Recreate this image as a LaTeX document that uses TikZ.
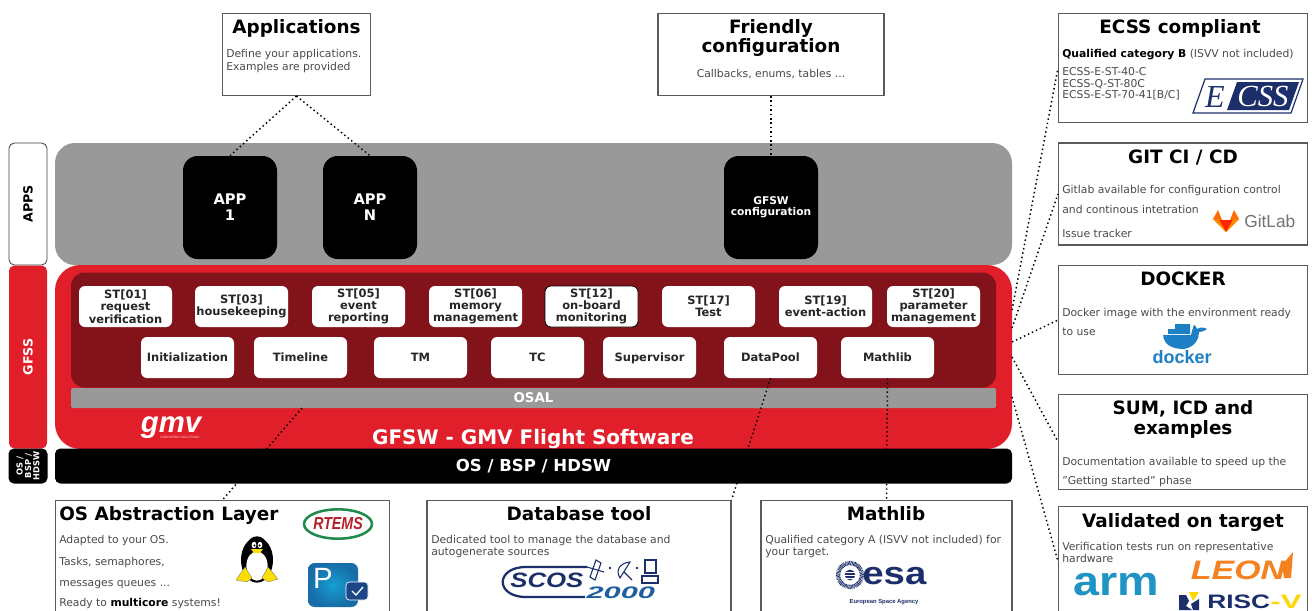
\documentclass[tikz,border=0pt]{standalone}
\usepackage{fontspec}
\setmainfont{DejaVu Sans}
\newfontfamily\logosans{Liberation Sans}
\newfontfamily\logoserif{Liberation Serif}
\usetikzlibrary{calc}
\definecolor{gfred}{HTML}{E11F2B}
\definecolor{gfdark}{HTML}{83131A}
\definecolor{gfgray}{HTML}{999999}
\definecolor{cardline}{HTML}{5A5A5A}
\definecolor{bodyink}{HTML}{4A4A4A}
\definecolor{navy}{HTML}{1C2F6B}
\definecolor{dockblue}{HTML}{1D7FC4}
\definecolor{armblue}{HTML}{1F93C3}
\definecolor{leonor}{HTML}{F58220}
\definecolor{rtgreen}{HTML}{1F8A4C}
\definecolor{rtred}{HTML}{B3202A}
\definecolor{pblue}{HTML}{1C7FC4}
\def\u{0.75pt}
\newcommand{\fs}[1]{\fontsize{#1}{#1}\selectfont}
\newcommand{\fsl}[2]{\fontsize{#1}{#2}\selectfont}
\tikzset{
  x=0.75pt,y=-0.75pt,
  card/.style={draw=cardline,line width=0.8pt,fill=white,inner sep=0pt},
  cardtitle/.style={anchor=base,inner sep=0pt,font=\bfseries\fs{13.8},text=black},
  cardbody/.style={anchor=base west,inner sep=0pt,font=\fs{8.1},text=bodyink},
  cardbodyc/.style={anchor=base,inner sep=0pt,font=\fs{8.1},text=bodyink},
  stbox/.style={fill=white,rounded corners=4.5pt,minimum width=93*\u,minimum height=41*\u,inner sep=0pt,align=center,font=\bfseries\fsl{8.6}{9.2},text=black!85},
  rowbox/.style={stbox,text height=8pt,text depth=1.8pt},
  appbox/.style={fill=black,rounded corners=11pt,minimum width=94*\u,minimum height=103*\u,inner sep=0pt,align=center,text=white},
  sidebox/.style={rotate=90,rounded corners=4pt,inner sep=0pt,align=center,font=\bfseries\fs{9.5}},
  band/.style={inner sep=0pt,align=center},
  conn/.style={draw=black,line width=1.1pt,dash pattern=on 1.1pt off 2.2pt},
}
\begin{document}
\begin{tikzpicture}
\useasboundingbox (0,0) rectangle (1312,610);
% side tabs
\node[sidebox,draw=black!75,line width=0.6pt,fill=white,minimum width=122*\u,minimum height=38*\u] (tabapps) at (28,204) {APPS};
\node[sidebox,fill=gfred,text=white,minimum width=183*\u,minimum height=38*\u] (tabgfss) at (28,357) {GFSS};
\node[sidebox,fill=black,text=white,minimum width=35*\u,minimum height=39*\u,font=\bfseries\fsl{6.2}{6.3}] (tabos) at (28,466) {OS /\\BSP /\\HDSW};
% layers
\node[band,fill=gfgray,rounded corners=15pt,minimum width=957*\u,minimum height=122*\u] (applayer) at (533.5,204) {};
\node[band,fill=gfred,rounded corners=19pt,minimum width=957*\u,minimum height=184*\u] (gfsw) at (533.5,357) {};
\node[band,fill=gfdark,rounded corners=10pt,minimum width=925*\u,minimum height=115*\u] (core) at (533.5,330) {};
\node[band,fill=gfgray,rounded corners=1.5pt,minimum width=925*\u,minimum height=20*\u,text=white,font=\bfseries\fs{10}] (osal) at (533.5,398) {OSAL};
\node[anchor=base,inner sep=0pt,text=white,font=\bfseries\fs{15}] (gfswtitle) at (533,444) {GFSW - GMV Flight Software};
% gmv logo
\node[anchor=base,inner sep=0pt,text depth=0pt,text=white,font=\logosans\bfseries\itshape\fs{22}] (gmvlogo) at (171,432) {gmv};
\node[anchor=base,inner sep=0pt,text=white!80!gfred,font=\logosans\fs{2.4}] (gmvtag) at (180,438.5) {INNOVATING SOLUTIONS};
% apps
\node[appbox,font=\bfseries\fs{11}] (app1) at (230,207.5) {APP\\[1pt]1};
\node[appbox,font=\bfseries\fs{11}] (appn) at (370,207.5) {APP\\[1pt]N};
\node[appbox,font=\bfseries\fs{8}] (cfg) at (771,207.5) {GFSW\\configuration};
% services
\node[stbox] (st01) at (125.5,306.5) {ST[01]\\request\\verification};
\node[stbox] (st03) at (241.5,306.5) {ST[03]\\housekeeping};
\node[stbox] (st05) at (358.5,306.5) {ST[05]\\event\\reporting};
\node[stbox] (st06) at (475.5,306.5) {ST[06]\\memory\\management};
\node[stbox,draw=black,line width=0.6pt] (st12) at (591.5,306.5) {ST[12]\\on-board\\monitoring};
\node[stbox] (st17) at (708.5,306.5) {ST[17]\\Test};
\node[stbox] (st19) at (825.5,306.5) {ST[19]\\event-action};
\node[stbox] (st20) at (933.5,306.5) {ST[20]\\parameter\\management};
\node[rowbox] (init) at (187.5,357.5) {Initialization};
\node[rowbox] (timeline) at (300.5,357.5) {Timeline};
\node[rowbox] (tm) at (420.5,357.5) {TM};
\node[rowbox] (tc) at (537.5,357.5) {TC};
\node[rowbox] (sup) at (649.5,357.5) {Supervisor};
\node[rowbox] (dp) at (770.5,357.5) {DataPool};
\node[rowbox] (mlib) at (887.5,357.5) {Mathlib};
% cards
\node[card,minimum width=148*\u,minimum height=82*\u] (capps) at (296.5,54.5) {};
\node[card,minimum width=226*\u,minimum height=82*\u] (cfriendly) at (771,54.5) {};
\node[card,minimum width=249*\u,minimum height=109*\u] (cecss) at (1183,68) {};
\node[card,minimum width=249*\u,minimum height=102*\u] (cgit) at (1183,194) {};
\node[card,minimum width=249*\u,minimum height=109*\u] (cdock) at (1183,320) {};
\node[card,minimum width=249*\u,minimum height=95*\u] (csum) at (1183,441.75) {};
\node[card,minimum width=249*\u,minimum height=110*\u] (cval) at (1183,561.5) {};
\node[card,minimum width=334*\u,minimum height=120*\u] (cos) at (222.5,560.5) {};
\node[card,minimum width=304*\u,minimum height=120*\u] (cdb) at (579,560.5) {};
\node[card,minimum width=251*\u,minimum height=120*\u] (cmath) at (886.5,560.5) {};
% connectors
\coordinate (osalout) at (302,408);
\coordinate (redE1) at (1012,310);
\coordinate (redE2) at (1012,328);
\coordinate (redE3) at (1012,342);
\coordinate (redE4) at (1012,357);
\coordinate (redE5) at (1012,397);
\draw[conn] (capps.south) -- (app1.north);
\draw[conn] (capps.south) -- (appn.north);
\draw[conn] (cfriendly.south) -- (cfg.north);
\draw[conn] (osalout) -- (cos.north);
\draw[conn] (dp.south) -- (cdb.north east);
\draw[conn] (mlib.south) -- (cmath.north);
\draw[conn] (redE1) -- (cecss.west);
\draw[conn] (redE2) -- (cgit.west);
\draw[conn] (redE3) -- (cdock.west);
\draw[conn] (redE4) -- (csum.west);
\draw[conn] (redE5) -- (cval.west);
% OS band above the connectors
\node[band,fill=black,rounded corners=4pt,minimum width=957*\u,minimum height=35*\u,text=white,font=\bfseries\fs{12.4}] (osband) at (533.5,466) {OS / BSP / HDSW};
% card texts
\node[cardtitle] (t1) at (296.5,34) {Applications};
\node[cardbody] (t1a) at (226,58) {Define your applications.};
\node[cardbody] (t1b) at (226,70) {Examples are provided};
\node[cardtitle] (t2) at (771,34) {Friendly};
\node[cardtitle] (t2b) at (771,53) {configuration};
\node[cardbodyc] (t2c) at (771,78) {Callbacks, enums, tables ...};
\node[cardtitle] (t3) at (1180,34) {ECSS compliant};
\node[cardbody] (t3a) at (1062,58) {\textcolor{black}{\bfseries Qualified category B} (ISVV not included)};
\node[cardbody] (t3b) at (1062,75.5) {ECSS-E-ST-40-C};
\node[cardbody] (t3c) at (1062,87) {ECSS-Q-ST-80C};
\node[cardbody] (t3d) at (1062,98.5) {ECSS-E-ST-70-41[B/C]};
\node[cardtitle] (t4) at (1183,163) {GIT CI / CD};
\node[cardbody] (t4a) at (1062,193) {Gitlab available for configuration control};
\node[cardbody] (t4b) at (1062,213) {and continous intetration};
\node[cardbody] (t4c) at (1062,237) {Issue tracker};
\node[cardtitle] (t5) at (1183,285) {DOCKER};
\node[cardbody] (t5a) at (1062,316) {Docker image with the environment ready};
\node[cardbody] (t5b) at (1062,335) {to use};
\node[cardtitle] (t6) at (1183,414) {SUM, ICD and};
\node[cardtitle] (t6b) at (1183,434) {examples};
\node[cardbody] (t6c) at (1062,465) {Documentation available to speed up the};
\node[cardbody] (t6d) at (1062,484) {"Getting started" phase};
\node[cardtitle] (t7) at (1183,527) {Validated on target};
\node[cardbody] (t7a) at (1062,550) {Verification tests run on representative};
\node[cardbody] (t7b) at (1062,562) {hardware};
\node[cardtitle,anchor=base west] (t8) at (59,520) {OS Abstraction Layer};
\node[cardbody] (t8a) at (59,543) {Adapted to your OS.};
\node[cardbody] (t8b) at (59,565) {Tasks, semaphores,};
\node[cardbody] (t8c) at (59,586) {messages queues ...};
\node[cardbody] (t8d) at (59,606) {Ready to \textcolor{black}{\bfseries multicore} systems!};
\node[cardtitle] (t9) at (579,520) {Database tool};
\node[cardbody] (t9a) at (431,543) {Dedicated tool to manage the database and};
\node[cardbody] (t9b) at (431,555) {autogenerate sources};
\node[cardtitle] (t10) at (886,520) {Mathlib};
\node[cardbody] (t10a) at (765,543) {Qualified category A (ISVV not included) for};
\node[cardbody] (t10b) at (765,555) {your target.};
% RTEMS logo
\draw[rtgreen,line width=1.9pt,fill=white] (338,524) ellipse (25.5pt and 11pt);
\node[inner sep=0pt,text=rtred,font=\logosans\bfseries\itshape\fs{13},xscale=0.82] (rtems) at (338,524) {RTEMS};
% Tux
\fill[black] (257,560) ellipse (12pt and 17pt);
\fill[black] (257,545) ellipse (7pt and 6.5pt);
\fill[white] (257,566) ellipse (8pt and 11pt);
\fill[white] (254,545) ellipse (1.8pt and 2.4pt);
\fill[white] (260,545) ellipse (1.8pt and 2.4pt);
\fill[black] (254.5,545.5) circle (0.8pt);
\fill[black] (259.5,545.5) circle (0.8pt);
\fill[yellow!80!orange] (251,549) -- (263,549) -- (260,553) -- (254,553) -- cycle;
\fill[yellow!80!orange,draw=black!60,line width=0.2pt] (236,580) -- (245,567) -- (252,578) -- (247,582) -- cycle;
\fill[yellow!80!orange,draw=black!60,line width=0.2pt] (278,579) -- (268,567) -- (262,578) -- (268,582) -- cycle;
% P logo
\shade[inner color=pblue!75!cyan,outer color=pblue!85!black,rounded corners=5pt] (308,563) rectangle (358,607);
\node[inner sep=0pt,text=white,font=\logosans\fs{22}] (plogo) at (323,578) {P};
\draw[white,line width=0.5pt,fill=navy!70!pblue,rounded corners=2.5pt] (346,582) rectangle (368,600);
\draw[white,line width=1pt] (352,591) -- (356,595) -- (363,587);
% SCOS logo
\draw[navy,line width=1.7pt] (587,567) -- (526,567) .. controls (495,567) and (495,597) .. (526,597) -- (585,597);
\node[inner sep=0pt,anchor=base west,text=navy,font=\logosans\bfseries\itshape\fs{15.6},xscale=1.24] (scos) at (510,587) {SCOS};
\node[inner sep=0pt,anchor=base west,text=dockblue!60!navy,font=\logosans\bfseries\itshape\fs{12.5},xscale=1.85] (scosb) at (586,598) {2000};
\draw[navy,line width=0.8pt] (596,560) -- (601,563) -- (595,580) -- (590,577) -- cycle (587,567) -- (604,572);
\fill[navy] (610,568) circle (1pt);
\draw[navy,line width=0.8pt] (620,578) .. controls (615,570) and (620,563) .. (630,562) -- cycle (624,572) -- (632,580);
\fill[navy] (637,568) circle (1pt);
\draw[navy,line width=0.8pt] (645,560) rectangle (656,573) (642,576) rectangle (658,583);
% esa logo
\draw[navy,line width=3.2pt,dash pattern=on 0.5pt off 0.5pt] (850,575) circle (9pt);
\fill[navy] (850,575) circle (4pt);
\draw[white,line width=0.5pt] (842,575) -- (858,575) (846,572) -- (856,572) (846,578) -- (856,578);
\node[inner sep=0pt,anchor=base west,text=navy,font=\logosans\bfseries\fs{24},xscale=1.2] (esa) at (862,584) {esa};
\node[inner sep=0pt,text=navy,font=\logosans\bfseries\fs{4.4}] (esab) at (884,602) {European Space Agency};
% ECSS logo
\draw[navy,line width=0.9pt,fill=white] (1205,79) -- (1303,79) -- (1291,113) -- (1193,113) -- cycle;
\fill[navy] (1237,82) -- (1299,82) -- (1289,110) -- (1227,110) -- cycle;
\node[inner sep=0pt,text=navy,font=\logoserif\itshape\fs{24}] (ecsse) at (1215,97) {E};
\node[inner sep=0pt,text=white,font=\logoserif\itshape\fs{23}] (ecssl) at (1263,96.5) {CSS};
% GitLab logo
\fill[orange!85!red] (1213,219) -- (1218,210) -- (1222,220) -- (1226,232) -- cycle;
\fill[orange!85!red] (1239,219) -- (1234,210) -- (1230,220) -- (1226,232) -- cycle;
\fill[red!70!orange] (1219,220) -- (1233,220) -- (1226,232) -- cycle;
\fill[orange!90!yellow] (1213,219) -- (1219,220) -- (1226,232) -- cycle;
\fill[orange!90!yellow] (1239,219) -- (1233,220) -- (1226,232) -- cycle;
\node[inner sep=0pt,anchor=base west,text=black!55,font=\logosans\fs{13}] (gitlab) at (1244,227) {GitLab};
% Docker logo
\fill[dockblue] (1163,335) .. controls (1164,345) and (1172,349) .. (1184,349) .. controls (1195,347) and (1199,339) .. (1199,332) .. controls (1202,332) and (1205,331) .. (1207,329) .. controls (1204,327) and (1200,327) .. (1197,329) .. controls (1196,326) and (1195,325) .. (1194,325) .. controls (1193,327) and (1192,331) .. (1191,335) -- cycle;
\fill[dockblue] (1168,329) rectangle (1190,334) (1175,324) rectangle (1190,329);
\node[inner sep=0pt,anchor=base,text=dockblue,font=\logosans\bfseries\fs{13.5}] (docker) at (1182,363) {docker};
% arm / LEON / RISC-V logos
\node[inner sep=0pt,anchor=base,text height=13pt,text depth=0pt,text=armblue,font=\logosans\bfseries\fs{31},xscale=1.13] (arm) at (1116,595) {arm};
\node[inner sep=0pt,anchor=base,text=leonor,font=\logosans\bfseries\itshape\fs{20},xscale=1.27] (leon) at (1238,579) {LEON};
\fill[leonor] (1282,565) -- (1293,552) -- (1291,578) -- (1284,578) -- cycle;
\fill[navy] (1179,595) -- (1186,595) -- (1189,601) -- (1186,606) -- (1192,610) -- (1179,610) -- cycle;
\fill[yellow!75!orange] (1179,592) -- (1199,592) -- (1193,601) -- (1189,592) -- cycle;
\fill[navy] (1199,599) -- (1199,610) -- (1193,610) -- (1191,604) -- cycle;
\node[inner sep=0pt,anchor=base west,text depth=0pt,text=navy,font=\logosans\bfseries\fs{14.6},xscale=1.35] (risc) at (1207,608.5) {RISC};
\node[inner sep=0pt,anchor=base west,text depth=0pt,text=yellow!75!orange,font=\logosans\bfseries\fs{14.6},xscale=1.6] (riscv) at (1270,608.5) {-V};
\end{tikzpicture}
\end{document}
